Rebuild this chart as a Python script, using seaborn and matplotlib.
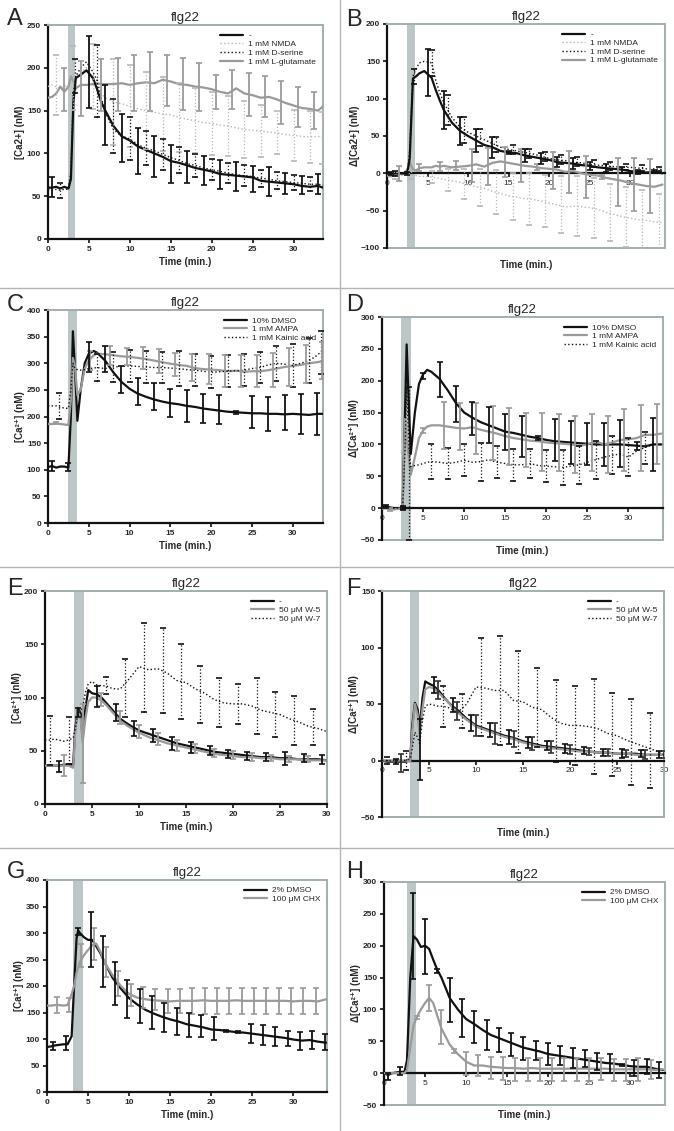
import matplotlib
matplotlib.use("Agg")
import matplotlib.pyplot as plt
import seaborn as sns
from matplotlib.lines import Line2D

# ---------------- data ----------------
# Panel A  [Ca2+] (nM)
a_t = [0, 0.5, 1, 1.5, 2, 2.5, 2.8, 3.1, 3.4, 4, 4.7, 5.5, 6, 6.5, 7, 8, 9, 10, 11, 12, 13, 14, 15, 16,
       17, 18, 19, 20, 21, 22, 23, 24, 25, 26, 27, 28, 29, 30, 31, 32, 33, 33.6]
a_ctrl = [60, 60, 61, 59, 61, 59, 70, 160, 188, 192, 197, 188, 175, 160, 150, 132, 120, 115, 108, 104, 100, 96,
          91, 89, 86, 83, 81, 79, 76, 75, 74, 73, 72, 68, 67, 66, 65, 64, 62, 61, 62, 60]
a_nmda = [178, 180, 178, 176, 178, 180, 185, 195, 192, 195, 200, 185, 175, 170, 165, 160, 158, 155, 152, 150,
          148, 146, 145, 142, 140, 138, 136, 135, 133, 132, 130, 128, 127, 126, 125, 124, 122, 121, 120, 119, 120, 118]
a_dser = [58, 57, 58, 57, 58, 58, 80, 170, 190, 200, 207, 195, 185, 165, 148, 128, 120, 117, 110, 106, 103, 99,
          95, 92, 88, 86, 83, 81, 79, 77, 75, 74, 73, 71, 70, 68, 67, 66, 65, 64, 64, 63]
a_glu = [165, 166, 170, 178, 172, 178, 190, 185, 176, 180, 180, 181, 182, 181, 181, 181, 182, 180, 182, 183,
         182, 186, 184, 181, 180, 178, 177, 175, 172, 170, 176, 170, 168, 165, 166, 163, 159, 156, 153, 152, 150, 155]
a_ctrl_et = [0.5, 5, 7, 9, 11, 13, 15, 17, 19, 21, 23, 25, 27, 29, 31, 33]
a_ctrl_em = [61, 195, 145, 118, 103, 96, 88, 84, 80, 75, 73, 70, 67, 65, 63, 64]
a_ctrl_ee = [12, 42, 35, 28, 27, 24, 22, 19, 17, 17, 17, 15, 17, 12, 11, 12]
a_glu_et = [2, 4, 6.5, 8.5, 10.5, 12.5, 14.5, 16.5, 18.5, 20.5, 22.5, 24.5, 26.5, 28.5, 30.5, 32.5]
a_glu_em = [175, 176, 180, 181, 182, 184, 185, 181, 178, 172, 175, 169, 166, 159, 154, 150]
a_glu_ee = [25, 32, 30, 31, 33, 34, 30, 30, 28, 20, 23, 25, 24, 25, 23, 22]
a_nmda_et = [1, 3, 5.5, 8, 10, 12, 14, 16, 18, 20, 22, 24, 26, 28, 30, 32, 33.5]
a_nmda_em = [180, 188, 190, 160, 155, 150, 146, 142, 138, 135, 132, 128, 126, 124, 121, 119, 118]
a_nmda_ee = [35, 37, 38, 50, 48, 45, 43, 40, 38, 37, 35, 33, 30, 25, 30, 30, 30]
a_dser_et = [1.5, 3.3, 6, 8, 10, 12, 14, 16, 18, 20, 22, 24, 26, 28, 30, 32]
a_dser_em = [57, 190, 185, 132, 117, 106, 99, 92, 86, 81, 77, 74, 71, 68, 66, 64]
a_dser_ee = [9, 20, 42, 32, 25, 20, 18, 15, 13, 12, 12, 12, 10, 10, 9, 8]

# Panel B  delta [Ca2+] (nM)
b_t = [0, 0.5, 1, 1.5, 2, 2.5, 2.8, 3.2, 3.6, 4, 4.6, 5.5, 6, 6.5, 7, 8, 9, 10, 11, 12, 13, 14, 15, 16, 17,
       18, 19, 20, 21, 22, 23, 24, 25, 26, 27, 28, 29, 30, 31, 32, 33, 34]
b_ctrl = [0, 0, 0, 0, 0, 0, 20, 127, 130, 134, 137, 128, 112, 98, 85, 68, 57, 50, 44, 38, 35, 30, 28, 27, 24,
          22, 20, 18, 15, 14, 13, 11, 10, 8, 7, 6, 5, 3, 2, 1, 2, 0]
b_nmda = [-3, -3, -2, -3, -2, -2, 0, -2, -3, -4, -4, -5, -6, -7, -8, -10, -12, -15, -18, -20, -24, -27, -30,
          -32, -34, -35, -37, -40, -42, -45, -44, -45, -46, -48, -52, -55, -58, -60, -62, -63, -65, -66]
b_dser = [0, 0, 0, 0, 0, 0, 30, 130, 140, 148, 150, 148, 125, 108, 95, 75, 62, 55, 50, 45, 40, 35, 32, 30, 28,
          26, 23, 20, 18, 17, 15, 14, 12, 11, 10, 9, 8, 8, 7, 6, 6, 5]
b_glu = [-3, -4, -2, -1, -1, 5, 15, 5, 4, 7, 8, 8, 10, 9, 10, 8, 9, 10, 12, 9, 14, 16, 14, 12, 10, 9, 7, 6, 5,
         2, 3, 0, -2, -3, -6, -8, -10, -13, -15, -17, -18, -15]
b_ctrl_et = [0.5, 2.5, 5, 7, 9, 11, 13, 15, 17, 19, 21, 23, 25, 27, 29, 31, 33]
b_ctrl_em = [0, 0, 135, 85, 57, 44, 35, 28, 24, 20, 15, 13, 10, 7, 5, 2, 3]
b_ctrl_ee = [2, 2, 32, 25, 19, 15, 14, 2, 9, 7, 7, 7, 5, 5, 4, 3, 2]
b_glu_et = [1.5, 4, 6.5, 8.5, 10.5, 12.5, 14.5, 16.5, 18.5, 20.5, 22.5, 24.5, 26.5, 28.5, 30.5, 32.5]
b_glu_em = [0, 8, 9, 10, 11, 9, 15, 10, 8, 4, 2, -5, -5, -12, -15, -17]
b_glu_ee = [10, 5, 6, 6, 22, 25, 20, 22, 4, 25, 28, 28, 3, 32, 35, 36]
b_nmda_et = [1, 3, 5.5, 7.5, 9.5, 11.5, 13.5, 15.5, 17.5, 19.5, 21.5, 23.5, 25.5, 27.5, 29.5, 31.5, 33.5]
b_nmda_em = [-3, -2, -5, -9, -14, -19, -25, -31, -34, -37, -42, -44, -46, -52, -58, -62, -66]
b_nmda_ee = [5, 5, 8, 15, 20, 25, 30, 32, 35, 35, 38, 40, 40, 38, 40, 40, 38]
b_dser_et = [1, 3.3, 5.5, 7.5, 9.5, 11.5, 13.5, 15.5, 17.5, 19.5, 21.5, 23.5, 25.5, 27.5, 29.5, 31.5, 33.5]
b_dser_em = [0, 130, 148, 85, 58, 48, 38, 32, 27, 23, 19, 16, 13, 10, 9, 7, 6]
b_dser_ee = [3, 10, 17, 20, 17, 12, 10, 6, 6, 6, 6, 6, 5, 5, 4, 4, 3]

# Panel C
c_t = [0, 0.5, 1, 1.5, 2, 2.5, 2.8, 3.05, 3.3, 3.6, 4, 4.5, 5, 5.6, 6, 7, 8, 9, 10, 11, 12, 13, 14, 15, 16,
       17, 18, 19, 20, 21, 22, 23, 24, 25, 26, 27, 28, 29, 30, 31, 32, 33, 33.7]
c_ctrl = [105, 107, 104, 106, 106, 104, 200, 360, 290, 192, 250, 300, 318, 323, 320, 305, 283, 265, 252, 243,
          237, 232, 228, 225, 223, 220, 218, 215, 213, 211, 209, 208, 207, 206, 206, 205, 205, 204, 205, 204,
          203, 205, 205]
c_ampa = [186, 186, 187, 186, 185, 184, 230, 310, 295, 240, 250, 290, 305, 315, 318, 317, 315, 313, 312, 310,
          308, 305, 302, 299, 297, 295, 291, 289, 288, 287, 285, 286, 284, 285, 285, 287, 290, 293, 295, 297,
          300, 302, 304]
c_kain = [220, 220, 220, 217, 216, 215, 250, 300, 290, 288, 287, 288, 290, 291, 292, 290, 293, 294, 295, 294,
          293, 292, 292, 291, 290, 288, 287, 285, 283, 284, 285, 286, 287, 290, 292, 297, 300, 298, 296, 300,
          305, 315, 325]
c_ctrl_et = [0.5, 2.5, 5, 7, 9, 11, 13, 15, 17, 19, 21, 23, 25, 27, 29, 31, 33]
c_ctrl_em = [107, 105, 312, 308, 270, 247, 237, 226, 220, 215, 213, 208, 208, 205, 207, 205, 205]
c_ctrl_ee = [10, 8, 28, 24, 25, 25, 25, 26, 30, 28, 28, 3, 30, 32, 33, 38, 40]
c_ampa_et = [1, 5.2, 7.6, 9.7, 11.7, 13.6, 15.6, 17.7, 19.7, 21.7, 23.6, 25.6, 27.6, 29.5, 31.6, 33.6]
c_ampa_em = [187, 305, 315, 312, 310, 304, 298, 292, 289, 286, 285, 285, 287, 293, 298, 305]
c_ampa_ee = [2, 18, 18, 16, 20, 22, 22, 25, 28, 30, 30, 30, 32, 35, 36, 35]
c_kain_et = [1.3, 6, 8, 10, 12, 14, 16, 18, 20, 22, 24, 26, 28, 30, 32, 33.5]
c_kain_em = [220, 292, 293, 295, 293, 292, 290, 287, 283, 285, 287, 292, 300, 296, 305, 320]
c_kain_ee = [25, 25, 28, 30, 30, 30, 33, 30, 30, 30, 30, 30, 33, 40, 42, 40]

# Panel D
d_t = [0, 0.5, 1, 1.5, 2, 2.5, 2.8, 3.0, 3.3, 3.5, 4, 4.5, 5, 5.5, 6, 7, 8, 9, 10, 11, 12, 13, 14, 15, 16,
       17, 18, 19, 20, 21, 22, 23, 24, 25, 26, 27, 28, 29, 30, 31, 32, 33, 34]
d_ctrl = [2, 3, 1, 0, 0, 0, 150, 257, 150, 85, 150, 195, 210, 217, 214, 203, 185, 165, 150, 142, 135, 130, 125,
          120, 118, 115, 112, 110, 107, 105, 104, 103, 102, 101, 100, 100, 100, 100, 99, 98, 97, 100, 100]
d_ampa = [-1, 0, -2, -2, -1, 0, 140, 110, 75, 52, 80, 110, 122, 128, 130, 130, 128, 126, 125, 127, 123, 120,
          117, 113, 110, 108, 106, 105, 103, 102, 101, 100, 98, 100, 105, 100, 103, 107, 108, 110, 115, 115, 117]
d_kain = [0, 0, 0, 0, 0, 0, 90, 190, 92, 65, 67, 68, 70, 72, 73, 72, 70, 72, 75, 72, 73, 76, 72, 70, 68, 68,
          70, 67, 66, 65, 64, 66, 68, 72, 76, 80, 83, 85, 80, 90, 95, 100, 100]
d_ctrl_et = [0.5, 2.5, 5, 7, 9, 11, 13, 15, 17, 19, 21, 23, 25, 27, 29, 31, 33]
d_ctrl_em = [3, 0, 207, 202, 163, 141, 131, 120, 113, 110, 107, 103, 101, 100, 101, 98, 100]
d_ctrl_ee = [2, 3, 5, 27, 28, 26, 28, 28, 32, 3, 33, 34, 33, 34, 37, 6, 42]
d_ampa_et = [1, 5, 7.5, 9.5, 11.5, 13.5, 15.5, 17.5, 19.5, 21.5, 23.5, 25.5, 27.5, 29.5, 31.5, 33.5]
d_ampa_em = [-2, 122, 130, 128, 125, 118, 112, 107, 104, 103, 100, 103, 100, 107, 110, 117]
d_ampa_ee = [2, 4, 37, 37, 40, 43, 45, 43, 45, 45, 45, 45, 45, 48, 52, 47]
d_kain_et = [2.5, 3.3, 6, 8, 10, 12, 14, 16, 18, 20, 22, 24, 26, 28, 30, 32]
d_kain_em = [0, 70, 73, 70, 75, 73, 72, 68, 70, 66, 64, 68, 76, 83, 80, 95]
d_kain_ee = [2, 120, 27, 25, 25, 30, 25, 25, 23, 25, 28, 30, 30, 30, 30, 25]

# Panel E
e_t = [0, 0.5, 1, 1.5, 2, 2.5, 3, 3.2, 3.5, 3.8, 4, 4.3, 4.6, 5, 5.5, 6, 6.5, 7, 7.5, 8, 9, 10, 11, 12, 13,
       14, 15, 16, 17, 18, 19, 20, 21, 22, 23, 24, 25, 26, 27, 28, 29, 30]
e_ctrl = [36, 36, 36, 36, 37, 37, 37, 70, 90, 85, 62, 90, 107, 104, 103, 100, 95, 90, 85, 80, 74, 69, 66, 63,
          60, 57, 55, 53, 51, 49, 48, 47, 46, 45, 44, 44, 43, 43, 42, 42, 42, 41]
e_w5 = [36, 36, 36, 36, 36, 36, 34, 65, 88, 80, 58, 80, 96, 100, 100, 97, 93, 88, 83, 78, 72, 67, 63, 60, 57,
        55, 53, 51, 49, 47, 46, 45, 44, 44, 43, 43, 42, 42, 42, 41, 41, 41]
e_w7 = [60, 60, 61, 60, 59, 60, 62, 70, 85, 88, 90, 105, 113, 115, 112, 111, 111, 109, 108, 108, 118, 129, 126,
        127, 123, 116, 114, 108, 104, 98, 95, 94, 94, 92, 88, 86, 84, 80, 77, 73, 71, 68]
e_ctrl_et = [1.5, 3.5, 5.5, 7.5, 9.5, 11.5, 13.5, 15.5, 17.5, 19.5, 21.5, 23.5, 25.5, 27.5, 29.5]
e_ctrl_em = [35, 86, 101, 86, 71, 64, 57, 53, 50, 47, 45, 44, 43, 43, 42]
e_ctrl_ee = [5, 4, 10, 8, 7, 6, 6, 5, 4, 4, 4, 4, 6, 4, 4]
e_w5_et = [2, 4, 6, 8, 10, 12, 14, 16, 18, 20, 22, 24, 26, 28]
e_w5_em = [36, 57, 98, 81, 68, 61, 55, 52, 48, 46, 44, 43, 42, 42]
e_w5_ee = [10, 37, 6, 6, 6, 6, 5, 4, 4, 4, 4, 3, 3, 3]
e_w7_et = [0.5, 2.5, 6.5, 8.5, 10.5, 12.5, 14.5, 16.5, 18.5, 20.5, 22.5, 24.5, 26.5, 28.5]
e_w7_em = [60, 60, 111, 109, 128, 125, 115, 103, 95, 94, 92, 84, 78, 72]
e_w7_ee = [23, 22, 8, 27, 42, 40, 35, 27, 23, 19, 26, 21, 23, 17]

# Panel F
f_t = e_t
f_ctrl = [0, -1, -1, -1, -1, -1, 0, 30, 51, 45, 28, 55, 70, 68, 66, 62, 57, 52, 48, 45, 37, 31, 28, 25, 22, 20,
          17, 15, 13, 12, 11, 10, 9, 8, 7, 7, 6, 6, 6, 5, 5, 5]
f_w5 = [0, 0, 0, 0, 0, 0, -1, 25, 50, 40, 22, 45, 63, 65, 64, 60, 56, 52, 47, 43, 36, 30, 27, 24, 21, 19, 16,
        14, 12, 11, 10, 9, 8, 8, 7, 7, 6, 6, 5, 5, 5, 5]
f_w7 = [0, 0, 0, 0, 0, 0, 2, 10, 25, 20, 15, 35, 48, 50, 49, 48, 48, 47, 45, 42, 50, 65, 64, 62, 62, 53, 52, 47,
        45, 38, 33, 31, 31, 30, 28, 24, 22, 18, 15, 12, 9, 5]
f_ctrl_et = [1.5, 4, 5.5, 7.5, 9.5, 11.5, 13.5, 15.5, 17.5, 19.5, 21.5, 23.5, 25.5, 27.5, 29.5]
f_ctrl_em = [-1, 10, 67, 49, 33, 27, 21, 16, 13, 11, 9, 7, 6, 6, 5]
f_ctrl_ee = [2, 27, 7, 6, 7, 6, 6, 5, 4, 4, 3, 3, 4, 3, 3]
f_w5_et = [2, 6, 8, 10, 12, 14, 16, 18, 20, 22, 24, 26, 28, 30]
f_w5_em = [-2, 62, 44, 31, 24, 19, 15, 12, 10, 8, 7, 6, 5, 5]
f_w5_ee = [8, 8, 8, 9, 9, 7, 6, 5, 4, 3, 3, 3, 4, 3]
f_w7_et = [0.5, 2.5, 6.5, 8.5, 10.5, 12.5, 14.5, 16.5, 18.5, 20.5, 22.5, 24.5, 26.5, 28.5]
f_w7_em = [0, 0, 48, 44, 65, 62, 52, 47, 35, 31, 30, 23, 16, 9]
f_w7_ee = [3, 8, 18, 15, 43, 48, 45, 35, 36, 35, 42, 37, 38, 33]

# Panel G
g_t = [0, 0.5, 1, 1.5, 2, 2.5, 3, 3.3, 3.6, 3.8, 4, 4.5, 5, 5.5, 6, 6.5, 7, 8, 9, 10, 11, 12, 13, 14, 15, 16,
       17, 18, 19, 20, 21, 22, 23, 24, 25, 26, 27, 28, 29, 30, 31, 32, 33, 34]
g_ctrl = [85, 86, 88, 89, 90, 90, 105, 200, 290, 305, 300, 292, 287, 287, 275, 262, 245, 215, 195, 177, 165,
          155, 148, 142, 137, 133, 128, 125, 122, 118, 117, 115, 113, 112, 110, 108, 106, 104, 102, 99, 97, 98,
          95, 93]
g_chx = [163, 163, 164, 164, 163, 164, 185, 200, 225, 235, 245, 258, 268, 277, 280, 265, 245, 220, 200, 185,
         178, 175, 173, 172, 171, 172, 172, 172, 173, 172, 172, 172, 173, 172, 172, 172, 172, 172, 172, 171, 172,
         172, 171, 175]
g_ctrl_et = [0.7, 2.3, 3.8, 5.3, 6.8, 8.3, 9.8, 11.3, 12.8, 14.3, 15.8, 17.3, 18.8, 20.3, 21.8, 23.3, 24.8,
             26.3, 27.8, 29.3, 30.8, 32.3, 33.8]
g_ctrl_em = [87, 92, 303, 287, 247, 205, 175, 162, 150, 140, 133, 127, 124, 120, 115, 113, 111, 107, 104, 101,
             97, 99, 94]
g_ctrl_ee = [8, 13, 7, 52, 48, 40, 36, 32, 32, 27, 25, 23, 21, 22, 2, 2, 18, 19, 18, 15, 17, 17, 15]
g_chx_et = [1.2, 2.7, 4.2, 5.7, 7.2, 8.7, 10.2, 11.7, 13.2, 14.7, 16.2, 17.7, 19.2, 20.7, 22.2, 23.7, 25.2,
            26.7, 28.2, 29.7, 31.2, 32.7]
g_chx_em = [164, 164, 258, 280, 245, 205, 183, 178, 174, 172, 172, 172, 172, 172, 172, 172, 172, 172, 172, 172,
            172, 172]
g_chx_ee = [15, 13, 22, 30, 28, 23, 20, 20, 20, 22, 23, 25, 25, 25, 25, 25, 25, 25, 25, 25, 25, 25]

# Panel H
h_t = [0, 0.5, 1, 1.5, 2, 2.5, 2.8, 3.2, 3.6, 4, 4.5, 5, 5.5, 6, 6.5, 7, 8, 9, 10, 11, 12, 13, 14, 15, 16, 17,
       18, 19, 20, 21, 22, 23, 24, 25, 26, 27, 28, 29, 30, 31, 32, 33, 34]
h_ctrl = [0, -3, 0, 1, 2, 2, 20, 150, 215, 210, 198, 200, 195, 178, 162, 150, 118, 100, 85, 77, 68, 60, 55, 50,
          45, 40, 37, 34, 30, 28, 26, 24, 22, 20, 18, 16, 15, 13, 11, 10, 10, 7, 5]
h_chx = [0, 0, 0, 0, 0, 0, 5, 40, 75, 88, 100, 110, 118, 110, 90, 70, 45, 30, 18, 12, 12, 10, 9, 8, 8, 7, 8, 7,
         7, 7, 7, 7, 7, 7, 7, 7, 6, 6, 6, 6, 6, 5, 6]
h_ctrl_et = [0.5, 2, 3.5, 5, 6.5, 8, 9.5, 11, 12.5, 14, 15.5, 17, 18.5, 20, 21.5, 23, 24.5, 26, 27.5, 29, 30.5,
             32, 33.5]
h_ctrl_em = [-5, 3, 215, 199, 160, 115, 87, 73, 60, 52, 45, 38, 35, 30, 27, 24, 23, 18, 15, 13, 8, 10, 5]
h_ctrl_ee = [6, 6, 67, 43, 3, 35, 30, 25, 24, 19, 18, 18, 15, 17, 15, 16, 14, 13, 15, 2, 12, 12, 12]
h_chx_et = [4, 5.5, 7, 8.5, 10, 11.5, 13, 14.5, 16, 17.5, 19, 20.5, 22, 23.5, 25, 26.5, 28, 29.5, 31, 32.5]
h_chx_em = [87, 118, 72, 35, 15, 12, 8, 8, 6, 6, 6, 6, 6, 6, 6, 6, 5, 5, 5, 6]
h_chx_ee = [2, 20, 27, 3, 18, 17, 17, 18, 18, 18, 18, 18, 18, 18, 18, 17, 17, 17, 18, 15]

# ---------------- style ----------------
sns.set_style("ticks")
plt.rcParams['font.family'] = ['Liberation Sans', 'DejaVu Sans']

BLACK = '#111111'
GRAY = '#9a9a9a'
LIGHT = '#b8b8b8'
FRAME = '#a3afaf'
BAND = '#bcc6c6'

W, H = 674, 1131
fig = plt.figure(figsize=(W / 100, H / 100), dpi=100)
LEG = dict(loc='upper right', frameon=False, fontsize=6, handlelength=2.8, labelspacing=0.1,
           borderaxespad=0.4, handletextpad=0.6)


def add_axes(x0, y0, x1, y1):
    # pixel box -> figure fraction
    return fig.add_axes([x0 / W, 1 - y1 / H, (x1 - x0) / W, (y1 - y0) / H])


def draw_panel(ax, lines, bars, band, xlim, ylim, ystep, ylabel, label_gap=None, order=None):
    ax.axvspan(band[0], band[1], color=BAND, lw=0, zorder=0)
    for t, y, col, ls, lw, lab in lines:
        sns.lineplot(x=t, y=y, ax=ax, color=col, linestyle=ls, linewidth=lw, label=lab, zorder=3)
    for t, m, e, col, ls in bars:
        eb = ax.errorbar(t, m, yerr=e, fmt='none', ecolor=col, elinewidth=1.3 if ls == '-' else 0.9,
                         capsize=2.2, capthick=1.2, zorder=4)
        if ls != '-':
            for c in eb[2]:
                c.set_linestyle(ls)
    ax.set_xlim(*xlim)
    ax.set_ylim(*ylim)
    ax.set_xticks(range(0, 31, 5))
    ax.set_yticks(range(ylim[0], ylim[1] + 1, ystep))
    ax.tick_params(labelsize=6, length=3, width=1.2, pad=2, color=BLACK)
    for lab in ax.get_xticklabels() + ax.get_yticklabels():
        lab.set_fontweight('bold')
    for s in ['top', 'right']:
        ax.spines[s].set_color(FRAME)
        ax.spines[s].set_linewidth(1.4)
    for s in ['left', 'bottom']:
        ax.spines[s].set_color(BLACK)
        ax.spines[s].set_linewidth(1.6)
    ax.set_xlabel('Time (min.)', fontsize=7, fontweight='bold', labelpad=3)
    ax.set_ylabel(ylabel, fontsize=7, fontweight='bold', labelpad=1)
    if label_gap is not None:
        # delta panels: zero line carries the ticks, the box bottom is grey
        ax.spines['bottom'].set_position(('data', 0))
        ax.add_line(Line2D([0, 1], [0, 0], transform=ax.transAxes, color=FRAME, lw=1.4, clip_on=False))
        h_px = ax.get_position().height * H
        ax.xaxis.set_label_coords(0.5, -label_gap / h_px)
    ax.set_title('flg22', fontsize=9.5, pad=3)
    handles, labels = ax.get_legend_handles_labels()
    if order is not None:
        handles = [handles[i] for i in order]
        labels = [labels[i] for i in order]
    ax.legend(handles, labels, **LEG)


# ---------------- panels ----------------
ax = add_axes(48, 25, 323, 239)
draw_panel(ax,
           [(a_t, a_nmda, LIGHT, ':', 1.0, '1 mM NMDA'),
            (a_t, a_dser, BLACK, ':', 1.0, '1 mM D-serine'),
            (a_t, a_glu, GRAY, '-', 1.6, '1 mM L-glutamate'),
            (a_t, a_ctrl, BLACK, '-', 1.6, '-')],
           [(a_nmda_et, a_nmda_em, a_nmda_ee, LIGHT, ':'),
            (a_dser_et, a_dser_em, a_dser_ee, BLACK, ':'),
            (a_glu_et, a_glu_em, a_glu_ee, GRAY, '-'),
            (a_ctrl_et, a_ctrl_em, a_ctrl_ee, BLACK, '-')],
           (2.5, 3.3), (0, 33.6), (0, 250), 50, '[Ca2+] (nM)', order=[3, 0, 1, 2])

ax = add_axes(387, 24, 665, 248)
draw_panel(ax,
           [(b_t, b_nmda, LIGHT, ':', 1.0, '1 mM NMDA'),
            (b_t, b_dser, BLACK, ':', 1.0, '1 mM D-serine'),
            (b_t, b_glu, GRAY, '-', 1.6, '1 mM L-glutamate'),
            (b_t, b_ctrl, BLACK, '-', 1.6, '-')],
           [(b_nmda_et, b_nmda_em, b_nmda_ee, LIGHT, ':'),
            (b_dser_et, b_dser_em, b_dser_ee, BLACK, ':'),
            (b_glu_et, b_glu_em, b_glu_ee, GRAY, '-'),
            (b_ctrl_et, b_ctrl_em, b_ctrl_ee, BLACK, '-')],
           (2.5, 3.4), (0, 34.3), (-100, 200), 50, 'Δ[Ca2+] (nM)', label_gap=12, order=[3, 0, 1, 2])

ax = add_axes(48, 310, 323, 523)
draw_panel(ax,
           [(c_t, c_ctrl, BLACK, '-', 1.6, '10% DMSO'),
            (c_t, c_ampa, GRAY, '-', 1.6, '1 mM AMPA'),
            (c_t, c_kain, BLACK, ':', 1.0, '1 mM Kainic acid')],
           [(c_kain_et, c_kain_em, c_kain_ee, BLACK, ':'),
            (c_ampa_et, c_ampa_em, c_ampa_ee, GRAY, '-'),
            (c_ctrl_et, c_ctrl_em, c_ctrl_ee, BLACK, '-')],
           (2.4, 3.6), (0, 33.7), (0, 400), 50, '[Ca²⁺] (nM)')

ax = add_axes(382, 317, 663, 540)
draw_panel(ax,
           [(d_t, d_ctrl, BLACK, '-', 1.6, '10% DMSO'),
            (d_t, d_ampa, GRAY, '-', 1.6, '1 mM AMPA'),
            (d_t, d_kain, BLACK, ':', 1.0, '1 mM Kainic acid')],
           [(d_kain_et, d_kain_em, d_kain_ee, BLACK, ':'),
            (d_ampa_et, d_ampa_em, d_ampa_ee, GRAY, '-'),
            (d_ctrl_et, d_ctrl_em, d_ctrl_ee, BLACK, '-')],
           (2.3, 3.5), (0, 34.2), (-50, 300), 50, 'Δ[Ca²⁺] (nM)', label_gap=6)

ax = add_axes(45, 591, 327, 804)
draw_panel(ax,
           [(e_t, e_ctrl, BLACK, '-', 1.6, '-'),
            (e_t, e_w5, GRAY, '-', 1.6, '50 μM W-5'),
            (e_t, e_w7, BLACK, ':', 1.0, '50 μM W-7')],
           [(e_w7_et, e_w7_em, e_w7_ee, BLACK, ':'),
            (e_w5_et, e_w5_em, e_w5_ee, GRAY, '-'),
            (e_ctrl_et, e_ctrl_em, e_ctrl_ee, BLACK, '-')],
           (3.1, 4.15), (0, 30), (0, 200), 50, '[Ca²⁺] (nM)')

ax = add_axes(382, 591, 664, 817)
draw_panel(ax,
           [(f_t, f_ctrl, BLACK, '-', 1.6, '-'),
            (f_t, f_w5, GRAY, '-', 1.6, '50 μM W-5'),
            (f_t, f_w7, BLACK, ':', 1.0, '50 μM W-7')],
           [(f_w7_et, f_w7_em, f_w7_ee, BLACK, ':'),
            (f_w5_et, f_w5_em, f_w5_ee, '#333333', '-'),
            (f_ctrl_et, f_ctrl_em, f_ctrl_ee, BLACK, '-')],
           (2.95, 3.95), (0, 30), (-50, 150), 50, 'Δ[Ca²⁺] (nM)', label_gap=11)

ax = add_axes(47, 880, 327, 1092)
draw_panel(ax,
           [(g_t, g_ctrl, BLACK, '-', 1.6, '2% DMSO'),
            (g_t, g_chx, GRAY, '-', 1.6, '100 μM CHX')],
           [(g_chx_et, g_chx_em, g_chx_ee, GRAY, '-'),
            (g_ctrl_et, g_ctrl_em, g_ctrl_ee, BLACK, '-')],
           (3.2, 4.4), (0, 34.1), (0, 400), 50, '[Ca²⁺] (nM)')

ax = add_axes(384, 882, 665, 1105)
draw_panel(ax,
           [(h_t, h_ctrl, BLACK, '-', 1.6, '2% DMSO'),
            (h_t, h_chx, GRAY, '-', 1.6, '100 μM CHX')],
           [(h_chx_et, h_chx_em, h_chx_ee, GRAY, '-'),
            (h_ctrl_et, h_ctrl_em, h_ctrl_ee, BLACK, '-')],
           (2.75, 3.95), (0, 34.25), (-50, 300), 50, 'Δ[Ca²⁺] (nM)', label_gap=5)

# panel letters
for letter, x, y in [('A', 7, 8), ('B', 346, 9), ('C', 7, 294), ('D', 346, 294),
                     ('E', 7, 578), ('F', 346, 578), ('G', 7, 861), ('H', 346, 861)]:
    fig.text(x / W, 1 - y / H, letter, fontsize=17, va='top', ha='left')

# separators between panels
for yy in [288, 567, 848]:
    fig.add_artist(Line2D([0, 1], [1 - yy / H, 1 - yy / H], color='#b5b5b5', lw=1))
fig.add_artist(Line2D([340 / W, 340 / W], [0, 1], color='#b5b5b5', lw=1))

fig.savefig('out.png', dpi=100)
